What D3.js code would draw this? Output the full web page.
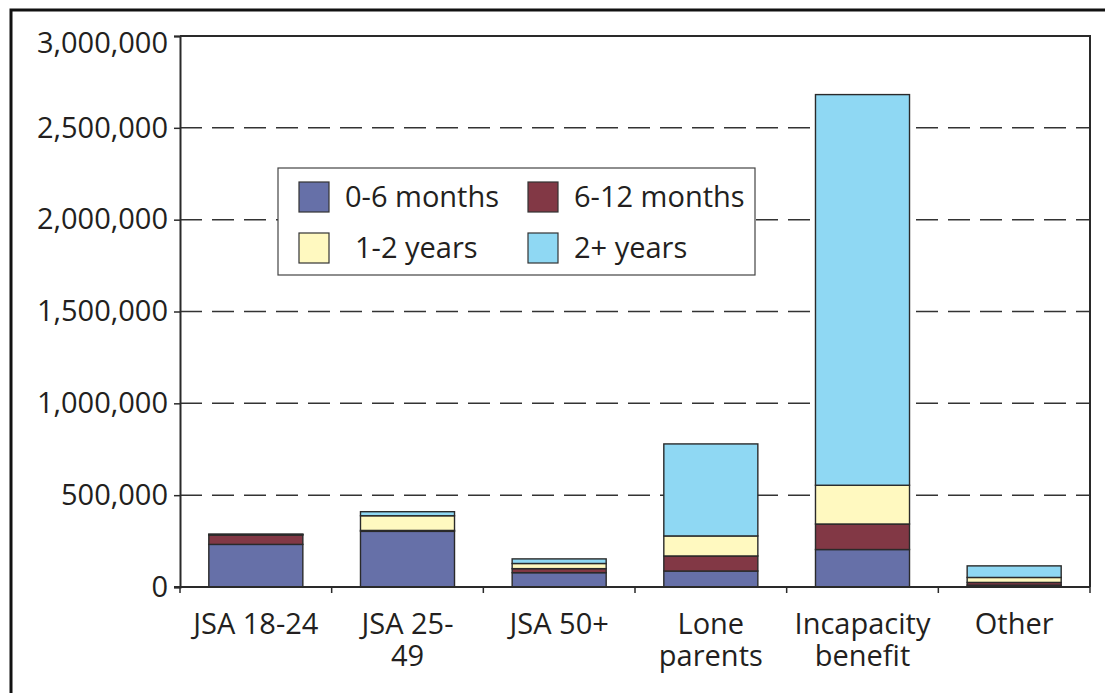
<!DOCTYPE html>
<html>
<head>
<meta charset="utf-8">
<script src="https://cdn.jsdelivr.net/npm/d3@7"></script>
<style>
  html, body { margin: 0; padding: 0; background: #fff; }
  svg { display: block; }
  text { font-family: "Open Sans", "DejaVu Sans", sans-serif; fill: #231f20; }
</style>
</head>
<body>
<svg id="chart" width="1105" height="693"></svg>
<script>
// categories, two-line labels for the x axis
const categories = ['JSA 18-24', 'JSA 25-49', 'JSA 50+', 'Lone parents', 'Incapacity benefit', 'Other']
const categoryLabels = [['JSA 18-24'], ['JSA 25-', '49'], ['JSA 50+'], ['Lone', 'parents'], ['Incapacity', 'benefit'], ['Other']]

// duration series (claimants)
const seriesNames = ['0-6 months', '6-12 months', '1-2 years', '2+ years']
const months0to6 = [232000, 303000, 78000, 87000, 204000, 10000]
const months6to12 = [51000, 5000, 22000, 82000, 139000, 15000]
const years1to2 = [3000, 80000, 28000, 109000, 211000, 27000]
const years2plus = [2000, 22000, 25000, 501000, 2127000, 63000]
const seriesColors = ['#6670a8', '#823845', '#fff9c0', '#8fd8f3']

const yTicks = [0, 500000, 1000000, 1500000, 2000000, 2500000, 3000000]

const conf = {
  left: 180,
  right: 1090,
  top: 36,
  bottom: 587,
  fontSize: 29
}

const rows = categories.map((c, i) => ({
  category: c,
  '0-6 months': months0to6[i],
  '6-12 months': months6to12[i],
  '1-2 years': years1to2[i],
  '2+ years': years2plus[i]
}))

const svg = d3.select('#chart')

// outer frame (right and bottom run off the picture)
svg.append('rect')
  .attr('x', 11).attr('y', 10)
  .attr('width', 1110).attr('height', 700)
  .attr('fill', 'none')
  .attr('stroke', '#111')
  .attr('stroke-width', 3)

const x = d3.scaleBand()
  .domain(categories)
  .range([conf.left, conf.right])
  .paddingInner(0.38)
  .paddingOuter(0.19)

const y = d3.scaleLinear()
  .domain([0, 3000000])
  .range([conf.bottom, conf.top])

// dashed gridlines
svg.append('g')
  .selectAll('line')
  .data(yTicks.filter(t => t > 0 && t < 3000000))
  .join('line')
  .attr('x1', conf.left).attr('x2', conf.right)
  .attr('y1', d => y(d)).attr('y2', d => y(d))
  .attr('stroke', '#333')
  .attr('stroke-width', 1.5)
  .attr('stroke-dasharray', '22,10')

// stacked bars
const stack = d3.stack().keys(seriesNames)
const layers = stack(rows)

svg.append('g')
  .selectAll('g')
  .data(layers)
  .join('g')
  .attr('fill', (d, i) => seriesColors[i])
  .selectAll('rect')
  .data(d => d)
  .join('rect')
  .attr('x', d => x(d.data.category))
  .attr('width', x.bandwidth())
  .attr('y', d => y(d[1]))
  .attr('height', d => y(d[0]) - y(d[1]))
  .attr('stroke', '#2a2a2a')
  .attr('stroke-width', 1.4)

// plot frame: top and right solid lines, then axes
svg.append('path')
  .attr('d', `M${conf.left},${conf.top}H${conf.right}V${conf.bottom}`)
  .attr('fill', 'none')
  .attr('stroke', '#2a2a2a')
  .attr('stroke-width', 2)

const yAxis = d3.axisLeft(y)
  .tickValues(yTicks)
  .tickFormat(d3.format(','))
  .tickSize(6)
  .tickPadding(6)

const yg = svg.append('g')
  .attr('transform', `translate(${conf.left},0)`)
  .call(yAxis)
yg.select('.domain').attr('stroke', '#2a2a2a').attr('stroke-width', 2)
yg.selectAll('.tick line').attr('stroke', '#2a2a2a').attr('stroke-width', 1.5)
yg.selectAll('.tick text')
  .attr('font-size', conf.fontSize)
  .attr('font-family', '"Open Sans", sans-serif')
  .attr('fill', '#231f20')
  // top label sits a little lower so it stays inside the frame
  .attr('y', d => d === 3000000 ? 7 : 0)

// x axis: baseline plus ticks between categories
const step = x.step()
const tickXs = categories.map(c => x(c) - x.paddingInner() * step / 2)
tickXs.push(conf.right)

const xg = svg.append('g')
xg.append('line')
  .attr('x1', conf.left - 6).attr('x2', conf.right)
  .attr('y1', conf.bottom).attr('y2', conf.bottom)
  .attr('stroke', '#2a2a2a')
  .attr('stroke-width', 2)
xg.selectAll('.xtick')
  .data(tickXs)
  .join('line')
  .attr('class', 'xtick')
  .attr('x1', d => d).attr('x2', d => d)
  .attr('y1', conf.bottom).attr('y2', conf.bottom + 6)
  .attr('stroke', '#2a2a2a')
  .attr('stroke-width', 1.5)

xg.selectAll('.xlabel')
  .data(categories)
  .join('text')
  .attr('class', 'xlabel')
  .attr('text-anchor', 'middle')
  .attr('font-size', conf.fontSize)
  .attr('transform', d => `translate(${x(d) + x.bandwidth() / 2},634)`)
  .selectAll('tspan')
  .data((d, i) => categoryLabels[i])
  .join('tspan')
  .attr('x', 0)
  .attr('y', (d, i) => i * 32)
  .text(d => d)

// legend
const legend = svg.append('g').attr('transform', 'translate(278,168)')
legend.append('rect')
  .attr('width', 477).attr('height', 107)
  .attr('fill', '#fff')
  .attr('stroke', '#444')
  .attr('stroke-width', 1.2)

const legendPos = [[21, 14], [250, 14], [21, 65], [250, 65]]
const legendText = ['0-6 months', '6-12 months', ' 1-2 years', '2+ years']
const items = legend.selectAll('.item')
  .data(seriesNames)
  .join('g')
  .attr('class', 'item')
  .attr('transform', (d, i) => `translate(${legendPos[i][0]},${legendPos[i][1]})`)
items.append('rect')
  .attr('width', 30).attr('height', 30)
  .attr('fill', (d, i) => seriesColors[i])
  .attr('stroke', '#333')
  .attr('stroke-width', 1.2)
items.append('text')
  .attr('x', (d, i) => i === 2 ? 56 : 46)
  .attr('y', 25)
  .attr('font-size', conf.fontSize)
  .text((d, i) => legendText[i].trim())
</script>
</body>
</html>
